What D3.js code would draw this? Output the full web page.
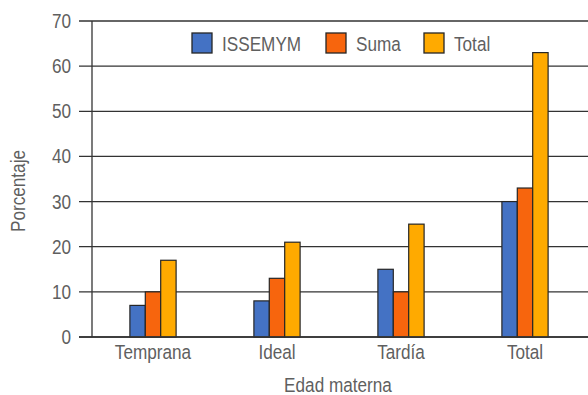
<!DOCTYPE html>
<html>
<head>
<meta charset="utf-8">
<script src="https://cdn.jsdelivr.net/npm/d3@7"></script>
<style>
  html, body { margin: 0; padding: 0; background: #fff; }
  svg { display: block; }
  text { font-family: "Liberation Sans", Arial, sans-serif; fill: #5f5f5f; }
</style>
</head>
<body>
<svg id="chart" width="588" height="395"></svg>
<script>
// Edad materna categories and series (porcentaje)
const categories = ["Temprana", "Ideal", "Tardía", "Total"];
const seriesNames = ["ISSEMYM", "Suma", "Total"];
const issemym = [7, 8, 15, 30];
const suma = [10, 13, 10, 33];
const total = [17, 21, 25, 63];
const yTicks = [0, 10, 20, 30, 40, 50, 60, 70];
const colors = ["#4472C4", "#F7650D", "#FFAA00"];

const series = [issemym, suma, total];
const svg = d3.select("#chart");
const plotLeft = 92, plotRight = 588, plotTop = 21, plotBottom = 337;
const sx = 0.88; // condensed text

const x0 = d3.scaleBand().domain(categories).range([plotLeft, plotRight]).padding(0);
const barW = 15.4;
const x1 = d3.scaleBand().domain(seriesNames).range([0, barW * 3]).padding(0);
const y = d3.scaleLinear().domain([0, 70]).range([plotBottom, plotTop]);

// gridlines with tick marks extending left of the axis
svg.append("g").selectAll("line").data(yTicks).join("line")
  .attr("x1", plotLeft - 13).attr("x2", plotRight)
  .attr("y1", d => y(d)).attr("y2", d => y(d))
  .attr("stroke", "#333").attr("stroke-width", 1.3);

// y axis line
svg.append("line")
  .attr("x1", plotLeft).attr("x2", plotLeft)
  .attr("y1", y(70)).attr("y2", y(0))
  .attr("stroke", "#333").attr("stroke-width", 1.3);

// y tick labels
svg.append("g").selectAll("text").data(yTicks).join("text")
  .attr("transform", d => `translate(71,${y(d)}) scale(${sx},1)`)
  .attr("text-anchor", "end").attr("dy", "0.36em")
  .attr("font-size", 19.5)
  .text(d => d);

// bars
const groups = svg.append("g").selectAll("g").data(categories).join("g")
  .attr("transform", c => `translate(${x0(c) + x0.bandwidth() / 2 - barW * 1.5 - 1},0)`);
groups.selectAll("rect")
  .data((c, i) => seriesNames.map((s, j) => ({ s, j, v: series[j][i] })))
  .join("rect")
  .attr("x", d => x1(d.s))
  .attr("y", d => y(d.v))
  .attr("width", x1.bandwidth())
  .attr("height", d => y(0) - y(d.v))
  .attr("fill", d => colors[d.j])
  .attr("stroke", "#262626").attr("stroke-width", 1.2);

// x axis baseline redrawn over bar bottoms
svg.append("line")
  .attr("x1", plotLeft - 13).attr("x2", plotRight)
  .attr("y1", y(0)).attr("y2", y(0))
  .attr("stroke", "#333").attr("stroke-width", 1.3);

// category labels
svg.append("g").selectAll("text").data(categories).join("text")
  .attr("transform", c => `translate(${x0(c) + x0.bandwidth() / 2 - 1},359) scale(${sx},1)`)
  .attr("text-anchor", "middle")
  .attr("font-size", 19.5)
  .text(c => c);

// axis titles
svg.append("text")
  .attr("transform", `translate(338,392) scale(${sx},1)`)
  .attr("text-anchor", "middle").attr("font-size", 19.5)
  .text("Edad materna");
svg.append("text")
  .attr("transform", `translate(25,191) rotate(-90) scale(${sx},1)`)
  .attr("text-anchor", "middle").attr("font-size", 19.5)
  .text("Porcentaje");

// legend
const legendX = [192, 326, 424];
const leg = svg.append("g").selectAll("g").data(seriesNames).join("g")
  .attr("transform", (d, i) => `translate(${legendX[i]},33)`);
leg.append("rect")
  .attr("width", 20).attr("height", 20)
  .attr("fill", (d, i) => colors[i])
  .attr("stroke", "#262626").attr("stroke-width", 1.3);
leg.append("text")
  .attr("transform", `translate(30,18) scale(${sx},1)`)
  .attr("font-size", 19.5)
  .text(d => d);
</script>
</body>
</html>
